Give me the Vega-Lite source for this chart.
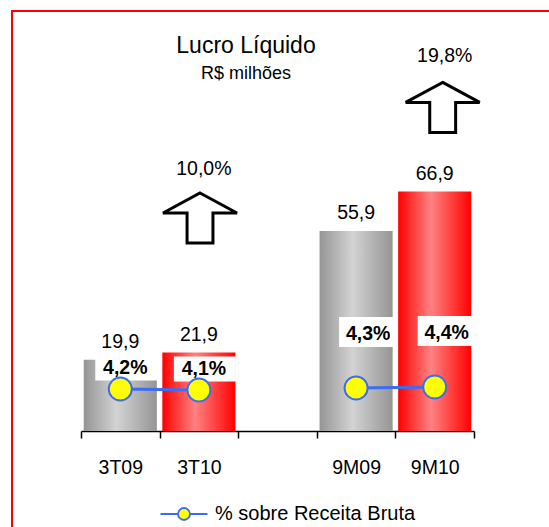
{
  "$schema": "https://vega.github.io/schema/vega-lite/v6.json",
  "width": 540,
  "height": 520,
  "autosize": {"type": "none"},
  "padding": {"left": 12, "top": 11, "right": 0, "bottom": 0},
  "background": "white",
  "datasets": {
    "main": [
      {"periodo": "3T09", "grupo": "3T", "ano": "09", "lucro": 19.9, "margem": 0.042},
      {"periodo": "3T10", "grupo": "3T", "ano": "10", "lucro": 21.9, "margem": 0.041},
      {"periodo": "9M09", "grupo": "9M", "ano": "09", "lucro": 55.9, "margem": 0.043},
      {"periodo": "9M10", "grupo": "9M", "ano": "10", "lucro": 66.9, "margem": 0.044}
    ],
    "growth": [
      {"periodo": "3T10", "grupo": "3T", "crescimento": 0.100},
      {"periodo": "9M10", "grupo": "9M", "crescimento": 0.198}
    ]
  },
  "title": {
    "text": "Lucro Líquido",
    "subtitle": "R$ milhões",
    "anchor": "middle",
    "dx": -36,
    "offset": -72,
    "font": "Liberation Sans",
    "fontSize": 23,
    "fontWeight": "normal",
    "color": "black",
    "subtitleFont": "Liberation Sans",
    "subtitleFontSize": 18,
    "subtitleColor": "black",
    "subtitlePadding": 7
  },
  "encoding": {
    "x": {
      "field": "periodo",
      "type": "nominal",
      "sort": null,
      "scale": {"domain": ["3T09", "3T10", " ", "9M09", "9M10"], "range": [69, 462], "paddingInner": 0, "paddingOuter": 0},
      "axis": {
        "title": null,
        "orient": "bottom",
        "offset": -100,
        "labelAngle": 0,
        "grid": false,
        "tickBand": "extent",
        "domainColor": "black",
        "domainWidth": 1.5,
        "tickColor": "black",
        "tickWidth": 1.5,
        "tickSize": 7,
        "labelPadding": 20,
        "labelFont": "Liberation Sans",
        "labelFontSize": 19.5,
        "labelColor": "black"
      }
    }
  },
  "layer": [
    {
      "layer": [
        {
          "data": {"name": "main"},
          "mark": {"type": "bar", "width": {"band": 0.93}},
          "encoding": {
            "y": {"field": "lucro", "type": "quantitative", "scale": {"domain": [-27.93, 117.32], "nice": false, "zero": false}, "axis": null},
            "fill": {
              "condition": {
                "test": "datum.ano === '09'",
                "value": {"gradient": "linear", "x1": 0, "x2": 1, "y1": 0, "y2": 0, "stops": [{"offset": 0, "color": "#959595"}, {"offset": 0.45, "color": "#d3d3d3"}, {"offset": 1, "color": "#959595"}]}
              },
              "value": {"gradient": "linear", "x1": 0, "x2": 1, "y1": 0, "y2": 0, "stops": [{"offset": 0, "color": "#ff0000"}, {"offset": 0.45, "color": "#ff8282"}, {"offset": 1, "color": "#ff0000"}]}
            }
          }
        },
        {
          "data": {"name": "main"},
          "mark": {"type": "text", "dy": -12, "baseline": "alphabetic", "font": "Liberation Sans", "fontSize": 19.5, "color": "black"},
          "encoding": {
            "y": {"field": "lucro", "type": "quantitative", "axis": null},
            "text": {"field": "lucro", "type": "quantitative", "format": ".1f"}
          }
        },
        {
          "data": {"name": "growth"},
          "transform": [{"filter": "datum.grupo === '3T'"}],
          "mark": {"type": "point", "shape": "M0.03,-0.676L1.03,-0.135L0.38,-0.135L0.38,0.676L-0.32,0.676L-0.32,-0.135L-0.97,-0.135Z", "size": 5476, "filled": true, "fill": "white", "stroke": "black", "strokeWidth": 3, "opacity": 1},
          "encoding": {"y": {"datum": 59.5, "type": "quantitative", "axis": null}}
        },
        {
          "data": {"name": "growth"},
          "transform": [{"filter": "datum.grupo === '3T'"}],
          "mark": {"type": "text", "dx": 5, "dy": -43, "baseline": "alphabetic", "font": "Liberation Sans", "fontSize": 19.5, "color": "black"},
          "encoding": {"y": {"datum": 59.5, "type": "quantitative", "axis": null}, "text": {"field": "crescimento", "type": "quantitative", "format": ".1%"}}
        },
        {
          "data": {"name": "growth"},
          "transform": [{"filter": "datum.grupo === '9M'"}],
          "mark": {"type": "point", "shape": "M0.216,-0.676L1.216,-0.135L0.566,-0.135L0.566,0.676L-0.134,0.676L-0.134,-0.135L-0.784,-0.135Z", "size": 5476, "filled": true, "fill": "white", "stroke": "black", "strokeWidth": 3, "opacity": 1},
          "encoding": {"y": {"datum": 90.4, "type": "quantitative", "axis": null}}
        },
        {
          "data": {"name": "growth"},
          "transform": [{"filter": "datum.grupo === '9M'"}],
          "mark": {"type": "text", "dx": 10, "dy": -45, "baseline": "alphabetic", "font": "Liberation Sans", "fontSize": 19.5, "color": "black"},
          "encoding": {"y": {"datum": 90.4, "type": "quantitative", "axis": null}, "text": {"field": "crescimento", "type": "quantitative", "format": ".1%"}}
        }
      ]
    },
    {
      "data": {"name": "main"},
      "encoding": {
        "y": {"field": "margem", "type": "quantitative", "scale": {"domain": [-0.10, 0.42], "nice": false, "zero": false}, "axis": null}
      },
      "layer": [
        {
          "mark": {"type": "point", "size": 900, "filled": true, "fill": "white", "strokeWidth": 0, "opacity": 1},
          "encoding": {
            "shape": {
              "condition": {"test": "datum.grupo === '3T'", "value": "M-1.667,-2.233L2.467,-2.233L2.467,-0.567L-1.667,-0.567Z"},
              "value": "M-1.133,-4.733L2.6,-4.733L2.6,-2.733L-1.133,-2.733Z"
            }
          }
        },
        {
          "mark": {"type": "line", "color": "#3b6cf2", "strokeWidth": 3},
          "encoding": {"detail": {"field": "grupo", "type": "nominal"}}
        },
        {
          "mark": {"type": "point", "shape": "circle", "size": 531, "filled": true, "stroke": "#3b6cf2", "strokeWidth": 2, "opacity": 1},
          "encoding": {
            "fill": {
              "datum": "% sobre Receita Bruta",
              "type": "nominal",
              "scale": {"range": ["#ffff00"]},
              "legend": {
                "title": null,
                "orient": "none",
                "legendX": 147.5,
                "legendY": 478.5,
                "symbolType": "M-1,0L-0.255,0M0.255,0L1,0M-0.255,0A0.255,0.255 0 1,1 0.255,0A0.255,0.255 0 1,1 -0.255,0Z",
                "symbolSize": 2209,
                "symbolStrokeColor": "#3b6cf2",
                "symbolStrokeWidth": 1.8,
                "symbolFillColor": "#ffff00",
                "labelFont": "Liberation Sans",
                "labelFontSize": 20,
                "labelColor": "black",
                "labelOffset": 6.5,
                "labelLimit": 400
              }
            }
          }
        },
        {
          "transform": [{"filter": "datum.grupo === '3T'"}],
          "mark": {"type": "text", "dx": 5, "dy": -15.5, "baseline": "alphabetic", "font": "Liberation Sans", "fontSize": 19.5, "fontWeight": "bold", "color": "black"},
          "encoding": {"text": {"field": "margem", "type": "quantitative", "format": ".1%"}}
        },
        {
          "transform": [{"filter": "datum.grupo === '9M'"}],
          "mark": {"type": "text", "dx": 12, "dy": -48, "baseline": "alphabetic", "font": "Liberation Sans", "fontSize": 19.5, "fontWeight": "bold", "color": "black"},
          "encoding": {"text": {"field": "margem", "type": "quantitative", "format": ".1%"}}
        }
      ]
    }
  ],
  "resolve": {"scale": {"y": "independent"}},
  "config": {
    "font": "Liberation Sans",
    "locale": {"number": {"decimal": ",", "thousands": ".", "grouping": [3], "currency": ["R$ ", ""]}},
    "view": {"stroke": "#ff0000", "strokeWidth": 2}
  }
}
